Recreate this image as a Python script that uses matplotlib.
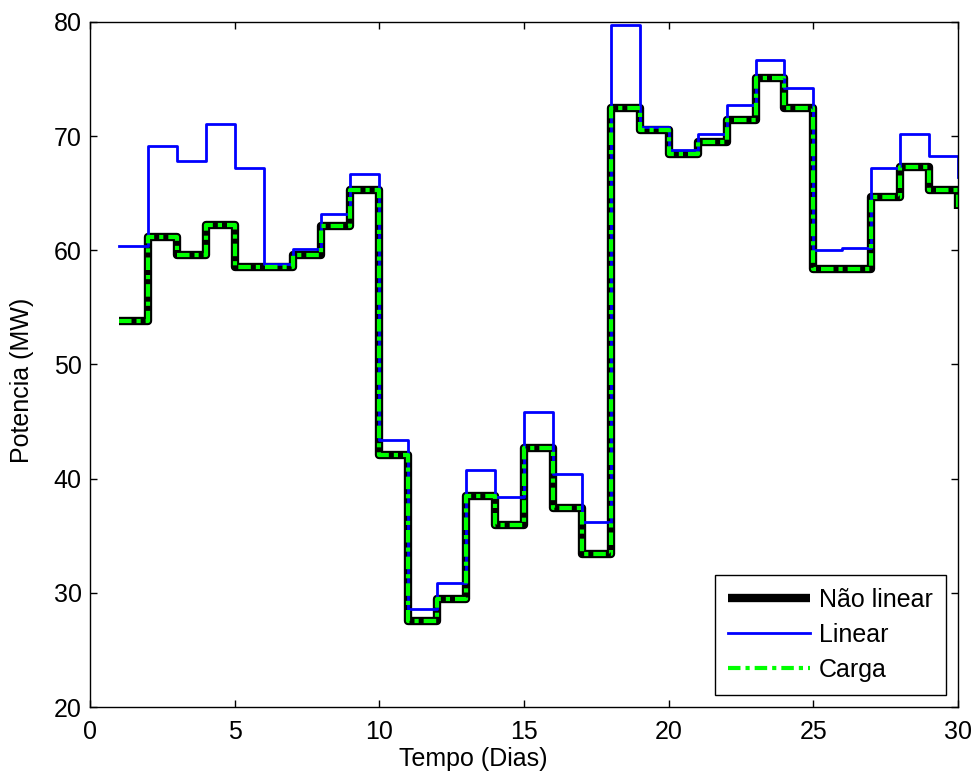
import matplotlib.pyplot as plt
import numpy as np

plt.rcParams['font.family'] = ['Liberation Sans', 'DejaVu Sans']

# Dias 1..30 (stairs)
dias = np.arange(1, 31)
nao_linear = [53.8, 61.2, 59.6, 62.2, 58.5, 58.5, 59.6, 62.1, 65.3, 42.1,
              27.5, 29.5, 38.5, 35.9, 42.7, 37.4, 33.4, 72.5, 70.5, 68.4,
              69.5, 71.4, 75.1, 72.5, 58.4, 58.4, 64.7, 67.3, 65.3, 63.6]
linear = [60.4, 69.1, 67.8, 71.1, 67.2, 58.8, 60.1, 63.2, 66.7, 43.4,
          28.6, 30.9, 40.8, 38.4, 45.8, 40.4, 36.2, 79.7, 70.8, 68.8,
          70.2, 72.7, 76.7, 74.2, 60.0, 60.2, 67.2, 70.2, 68.3, 66.4]
carga = [53.8, 61.2, 59.6, 62.2, 58.5, 58.5, 59.6, 62.1, 65.3, 42.1,
         27.5, 29.5, 38.5, 35.9, 42.7, 37.4, 33.4, 72.5, 70.5, 68.4,
         69.5, 71.4, 75.1, 72.5, 58.4, 58.4, 64.7, 67.3, 65.3, 63.6]

fig = plt.figure(figsize=(9.71, 7.75), dpi=100)
ax = fig.add_axes([0.0927, 0.0877, 0.894, 0.884])

ax.step(dias, nao_linear, where='post', color='k', lw=6,
        solid_joinstyle='round', solid_capstyle='butt', label='Não linear')
ax.step(dias, linear, where='post', color='#0000ff', lw=2, label='Linear')
ax.step(dias, carga, where='post', color='#00ff00', lw=3,
        linestyle=(0, (3, 1.2, 1, 1.2)), label='Carga')

ax.set_xlim(0, 30)
ax.set_ylim(20, 80)
ax.set_xticks(np.arange(0, 31, 5))
ax.set_yticks(np.arange(20, 81, 10))
ax.tick_params(direction='in', top=True, right=True, length=5, width=1,
               labelsize=18)
ax.tick_params(axis='x', pad=9)
ax.tick_params(axis='y', pad=6)
for s in ax.spines.values():
    s.set_linewidth(1)

ax.set_xlabel('Tempo (Dias)', fontsize=18)
ax.set_ylabel('Potencia (MW)', fontsize=18)
ax.xaxis.set_label_coords(0.442, -0.058)
ax.yaxis.set_label_coords(-0.064, 0.477)

leg = ax.legend(loc='lower right', fontsize=18, fancybox=False,
                framealpha=1, edgecolor='k', handlelength=3.3,
                borderaxespad=0.5, labelspacing=0.45, handletextpad=0.36,
                borderpad=0.5)
leg.get_frame().set_linewidth(1)

plt.savefig('out.png', dpi=100)
